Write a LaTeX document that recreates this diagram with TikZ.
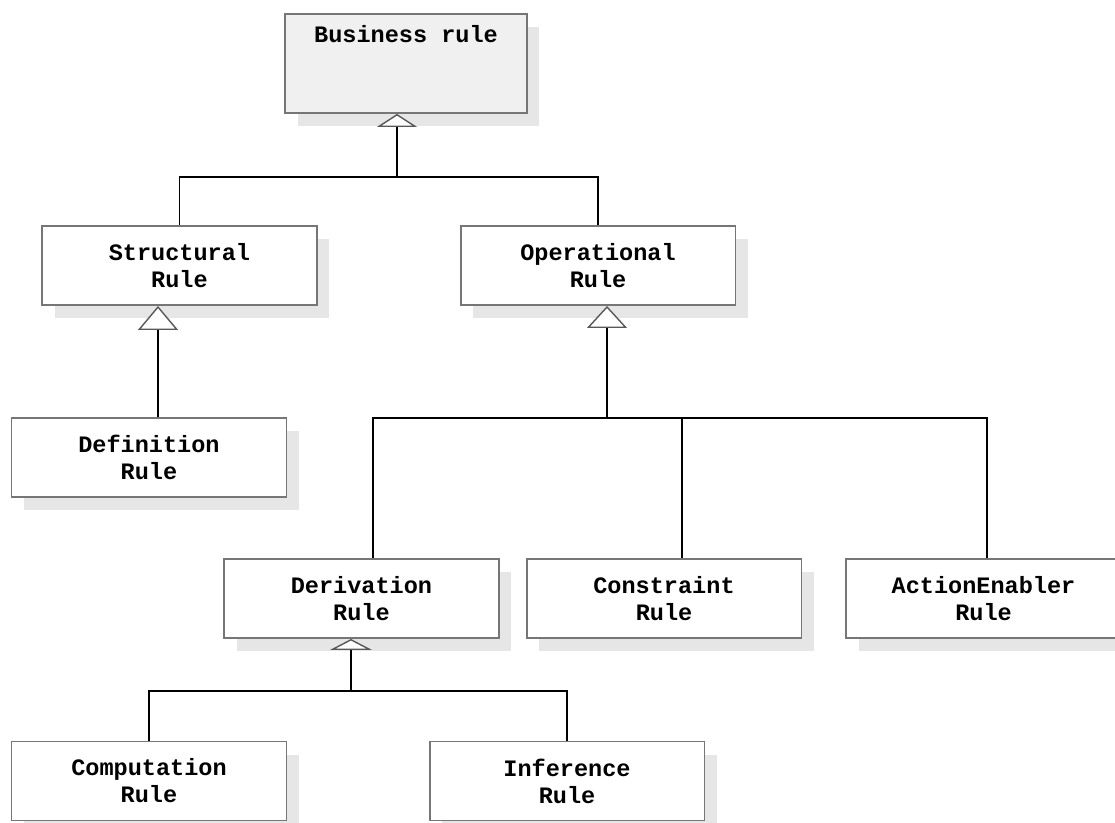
\documentclass[tikz,border=0pt]{standalone}
\usepackage{fontspec}
\setmonofont{Liberation Mono}
\usetikzlibrary{positioning}
\usetikzlibrary{shadows}
\usetikzlibrary{arrows.meta}
\definecolor{boxline}{RGB}{118,118,118}
\definecolor{topfill}{RGB}{240,240,240}
\definecolor{shade}{RGB}{230,230,230}

\tikzset{
  rulebox/.style={draw=boxline, line width=1.1pt, fill=white, minimum width=5.5cm, minimum height=1.58cm,
    align=center, inner sep=0pt, font={\ttfamily\bfseries\fontsize{13.4}{15.3}\selectfont},
    drop shadow={shadow xshift=0.25cm, shadow yshift=-0.26cm, fill=shade, opacity=1}},
  link/.style={line width=0.6pt, black},
  gen/.style={-{Triangle[width=#1, fill=white, color=black!65, line width=0.8pt]}}
}

\begin{document}
\begin{tikzpicture}[x=0.02cm, y=-0.02cm]
\useasboundingbox (0,0) rectangle (1115,822);
\clip (0,0) rectangle (1115,822);

% Top
\node[rulebox, fill=topfill, minimum width=4.84cm, text height=0.58cm, text depth=1.40cm, anchor=north] (business) at (406,13) {Business rule};

% Level 1
\node[rulebox] (structural) at (179.5,265.5) {Structural\\Rule};
\node[rulebox] (operational) at (598,265.5) {Operational\\Rule};

% Level 2
\node[rulebox] (definition) at (149,457.5) {Definition\\Rule};

% Level 3
\node[rulebox] (derivation) at (361.5,598.5) {Derivation\\Rule};
\node[rulebox] (constraint) at (664,598.5) {Constraint\\Rule};
\node[rulebox] (action) at (983.5,598.5) {ActionEnabler\\Rule};

% Level 4
\node[rulebox] (computation) at (149,781) {Computation\\Rule};
\node[rulebox] (inference) at (567,781) {Inference\\Rule};

% Business rule
\coordinate (busj) at (397,177);
\draw[link] (structural.north) |- (busj) -| (operational.north);
\draw[link, gen={0.8cm, length=0.26cm}] (busj) -- (busj |- business.south);

% Structural rule
\coordinate (structj) at (158,418);
\draw[link, gen={0.8cm, length=0.48cm}] (definition.north -| structj) -- (structural.south -| structj);

% Operational rule
\coordinate (operj) at (607,418);
\coordinate (opleft) at (373,418);
\coordinate (opmid) at (682,418);
\coordinate (opright) at (987,418);
\draw[link] (derivation.north -| opleft) -- (opleft) -- (opright) -- (action.north -| opright);
\draw[link] (opmid) -- (constraint.north -| opmid);
\draw[link, gen={0.8cm, length=0.44cm}] (operj) -- (operj |- operational.south);

% Derivation rule
\coordinate (derj) at (351,691);
\draw[link] (computation.north) |- (derj) -| (inference.north);
\draw[link, gen={0.84cm, length=0.22cm}] (derj) -- (derj |- derivation.south);

\end{tikzpicture}
\end{document}
